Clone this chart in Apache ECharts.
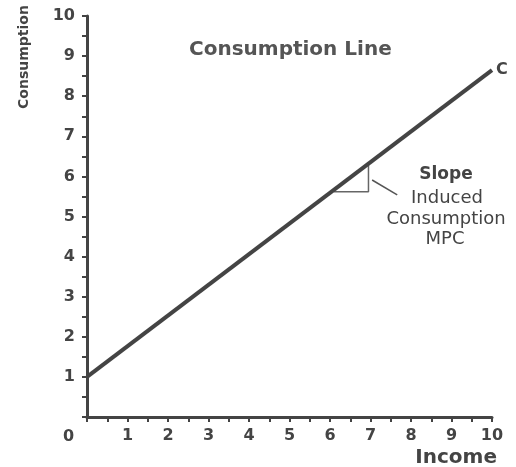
<!DOCTYPE html>
<html>
<head>
<meta charset="utf-8">
<script src="https://cdn.jsdelivr.net/npm/echarts@6/dist/echarts.min.js"></script>
<style>html,body{margin:0;padding:0;background:#fff;}#c{width:516px;height:467px;}</style>
</head>
<body>
<div id="c"></div>
<script>
// Consumption line C: income -> consumption
const lineIncome = [0, 10];
const lineConsumption = [1, 8.65];
// Slope triangle (MPC) under the line
const triIncome = [6.1, 6.95, 6.95];
const triConsumption = [5.62, 5.62, 6.3];
// Pointer from triangle to annotation
const ptrIncome = [7.04, 7.66];
const ptrConsumption = [5.91, 5.54];
// Axis tick labels (0 drawn at the corner)
const xTickLabels = [1, 2, 3, 4, 5, 6, 7, 8, 9, 10];
const yTickLabels = [1, 2, 3, 4, 5, 6, 7, 8, 9, 10];
const annotation = ['Slope', 'Induced', 'Consumption', 'MPC'];

const FONT = 'DejaVu Sans';
const INK = '#444';
const zip = (a, b) => a.map((v, i) => [v, b[i]]);
const labelFmt = list => v => list.indexOf(Math.round(v * 100) / 100) >= 0 ? String(v) : '';

const chart = echarts.init(document.getElementById('c'), null, {renderer: 'canvas'});
chart.setOption({
  animation: false,
  backgroundColor: '#fff',
  title: {
    text: 'Consumption Line',
    left: 184, top: 35,
    textStyle: {fontFamily: FONT, fontSize: 20, fontWeight: 'bold', color: '#555'}
  },
  grid: {left: 87, right: 24, top: 16, bottom: 50, containLabel: false},
  xAxis: {
    type: 'value', min: 0, max: 10, interval: 0.5,
    axisLine: {show: true, lineStyle: {color: INK, width: 3}},
    axisTick: {show: true, length: 5, lineStyle: {color: INK, width: 2}},
    splitLine: {show: false},
    axisLabel: {formatter: labelFmt(xTickLabels), margin: 11, fontFamily: FONT, fontSize: 16, fontWeight: 'bold', color: INK}
  },
  yAxis: {
    type: 'value', min: 0, max: 10, interval: 0.5,
    axisLine: {show: true, lineStyle: {color: INK, width: 3}},
    axisTick: {show: true, length: 5, lineStyle: {color: INK, width: 2}},
    splitLine: {show: false},
    axisLabel: {formatter: labelFmt(yTickLabels), margin: 12, fontFamily: FONT, fontSize: 16, fontWeight: 'bold', color: INK}
  },
  series: [
    {
      type: 'line', data: zip(lineIncome, lineConsumption), symbol: 'none',
      lineStyle: {color: INK, width: 4}, z: 5,
      endLabel: {show: true, formatter: 'C', fontFamily: FONT, fontSize: 16, fontWeight: 'bold', color: INK, distance: 4}
    },
    {
      type: 'line', data: zip(triIncome, triConsumption), symbol: 'none',
      lineStyle: {color: '#666', width: 1.5}, z: 4
    },
    {
      type: 'line', data: zip(ptrIncome, ptrConsumption), symbol: 'none',
      lineStyle: {color: '#555', width: 1.5}, z: 4
    }
  ],
  graphic: [
    {type: 'text', left: 63, top: 429, style: {text: '0', font: 'bold 16px "DejaVu Sans"', fill: INK}},
    {type: 'text', x: 24, y: 57, rotation: Math.PI / 2,
      style: {text: 'Consumption', font: 'bold 14px "DejaVu Sans"', fill: INK, align: 'center', verticalAlign: 'middle'}},
    {type: 'text', right: 19, top: 448, style: {text: 'Income', font: 'bold 20px "DejaVu Sans"', fill: INK}},
    {type: 'text', x: 446, y: 175, style: {text: annotation[0], font: 'bold 17px "DejaVu Sans"', fill: INK, align: 'center', verticalAlign: 'middle'}},
    {type: 'text', x: 447, y: 198, style: {text: annotation[1], font: '18px "DejaVu Sans"', fill: INK, align: 'center', verticalAlign: 'middle'}},
    {type: 'text', x: 446, y: 219, style: {text: annotation[2], font: '18px "DejaVu Sans"', fill: INK, align: 'center', verticalAlign: 'middle'}},
    {type: 'text', x: 445, y: 239, style: {text: annotation[3], font: '18px "DejaVu Sans"', fill: INK, align: 'center', verticalAlign: 'middle'}}
  ]
});
</script>
</body>
</html>
